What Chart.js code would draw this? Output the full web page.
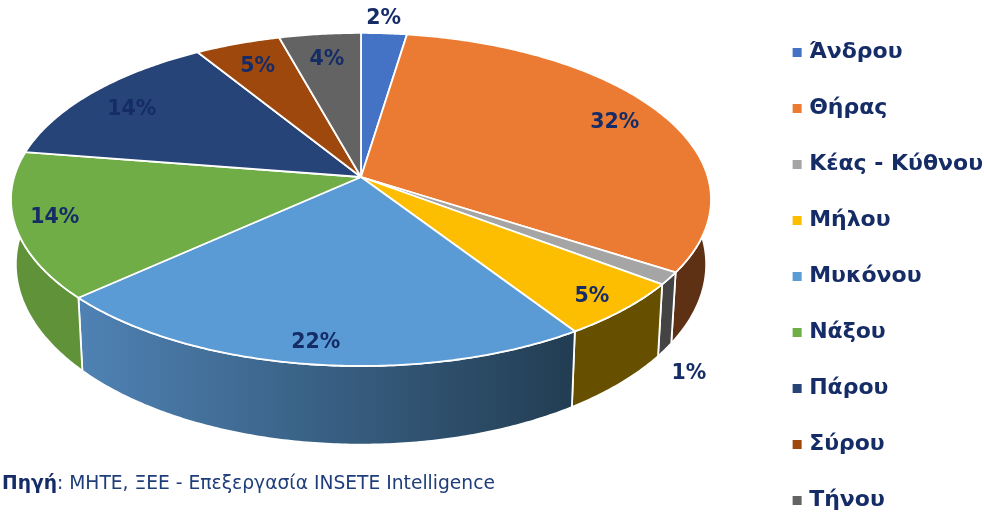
<!DOCTYPE html>
<html>
<head>
<meta charset="utf-8">
<style>
  body { margin: 0; background: #fff; }
  #wrap { position: relative; width: 984px; height: 513px; overflow: hidden; }
  #source { position: absolute; left: 2px; top: 472px; font: 18.7px "DejaVu Sans", sans-serif; color: #1f3d7a; white-space: nowrap; }
  #source b { color: #152c66; }
</style>
<script src="https://cdn.jsdelivr.net/npm/chart.js@4"></script>
</head>
<body>
<div id="wrap">
  <canvas id="myChart" width="984" height="513"></canvas>
  <div id="source"><b>Πηγή</b>: ΜΗΤΕ, ΞΕΕ - Επεξεργασία INSETE Intelligence</div>
</div>
<script>
// data
const islands = ["Άνδρου", "Θήρας", "Κέας - Κύθνου", "Μήλου", "Μυκόνου", "Νάξου", "Πάρου", "Σύρου", "Τήνου"];
const shares = [2.4, 31.7, 1.2, 5.49, 22.49, 14.2, 13.72, 4.5, 4.3];

// colours
const topColors = ["#4472c4", "#eb7b33", "#a5a5a5", "#fdbd00", "#5b9bd5", "#70ad47", "#264478", "#9e480e", "#636363"];
const wallFrom = ["#2f4f88", "#5e3115", "#444444", "#665000", "#4f82b4", "#5f9239", "#1c3358", "#5e2c08", "#3c3c3c"];
const wallTo = ["#2f4f88", "#5e3115", "#444444", "#665000", "#223d52", "#5f9239", "#1c3358", "#5e2c08", "#3c3c3c"];
const navy = "#152c66";

// label placement: distance from the centre along the slice middle, then a pixel nudge
const labelPull = [1.13, 0.84, 1.1, 0.89, 0.9, 0.89, 0.84, 0.82, 0.81];
const labelNudge = [[-3, 2], [0, 0], [-14, 84], [0, 3], [0, 0], [0, -2], [-1, 4], [0, 1], [0, 1]];

// perspective of the tilted disc: upper rim and lower rim
const k = 0.135;
const upperRim = { cx: 361, cy: 177, sx: 346.8, sy: 163.5 };
const lowerRim = { cx: 361, cy: 240, sx: 342, sy: 177 };

function project(angle, r, rim) {
  const u = r * Math.cos(angle);
  const v = r * Math.sin(angle);
  const w = 1 - k * v;
  return { x: rim.cx + rim.sx * u / w, y: rim.cy + rim.sy * v / w };
}

function arcPoints(start, end, rim) {
  const steps = Math.max(2, Math.ceil((end - start) / 0.01));
  const pts = [];
  for (let i = 0; i <= steps; i++) {
    pts.push(project(start + (end - start) * i / steps, 1, rim));
  }
  return pts;
}

function tracePath(ctx, pts) {
  ctx.beginPath();
  pts.forEach((p, i) => i ? ctx.lineTo(p.x, p.y) : ctx.moveTo(p.x, p.y));
  ctx.closePath();
}

const pie3d = {
  id: "pie3d",
  beforeDatasetDraw(chart, args) {
    const ctx = chart.ctx;
    const arcs = args.meta.data;
    ctx.lineJoin = "round";

    // side walls first, the top face covers whatever lies behind it
    arcs.forEach((arc, i) => {
      const top = arcPoints(arc.startAngle, arc.endAngle, upperRim);
      const bottom = arcPoints(arc.startAngle, arc.endAngle, lowerRim).reverse();
      const grad = ctx.createLinearGradient(78, 0, 575, 0);
      grad.addColorStop(0, wallFrom[i]);
      grad.addColorStop(1, wallTo[i]);
      ctx.fillStyle = grad;
      tracePath(ctx, top.concat(bottom));
      ctx.fill();
      ctx.strokeStyle = "#fff";
      ctx.lineWidth = 1.8;
      ctx.stroke();
    });

    // top face
    arcs.forEach((arc, i) => {
      const pts = [{ x: upperRim.cx, y: upperRim.cy }].concat(arcPoints(arc.startAngle, arc.endAngle, upperRim));
      ctx.fillStyle = topColors[i];
      tracePath(ctx, pts);
      ctx.fill();
      ctx.strokeStyle = "#fff";
      ctx.lineWidth = 1.8;
      ctx.stroke();
    });
    return false;
  },
  afterDatasetsDraw(chart) {
    const ctx = chart.ctx;
    const arcs = chart.getDatasetMeta(0).data;
    ctx.save();
    ctx.font = "bold 20.5px 'DejaVu Sans', sans-serif";
    ctx.fillStyle = navy;
    ctx.textAlign = "center";
    ctx.textBaseline = "middle";
    arcs.forEach((arc, i) => {
      const p = project((arc.startAngle + arc.endAngle) / 2, labelPull[i], upperRim);
      ctx.fillText(Math.round(shares[i]) + "%", p.x + labelNudge[i][0], p.y + labelNudge[i][1]);
    });
    ctx.restore();
  }
};

new Chart(document.getElementById("myChart"), {
  type: "pie",
  data: {
    labels: islands,
    datasets: [{ data: shares, backgroundColor: topColors, borderWidth: 0 }]
  },
  options: {
    responsive: false,
    animation: false,
    layout: { padding: { bottom: -40, right: -9 } },
    plugins: {
      tooltip: { enabled: false },
      legend: {
        position: "right",
        labels: {
          usePointStyle: true,
          pointStyle: "rect",
          boxWidth: 2,
          boxHeight: 9,
          padding: 34,
          color: navy,
          font: { family: "'DejaVu Sans', sans-serif", size: 22, weight: "bold" }
        }
      }
    }
  },
  plugins: [pie3d]
});
</script>
</body>
</html>
